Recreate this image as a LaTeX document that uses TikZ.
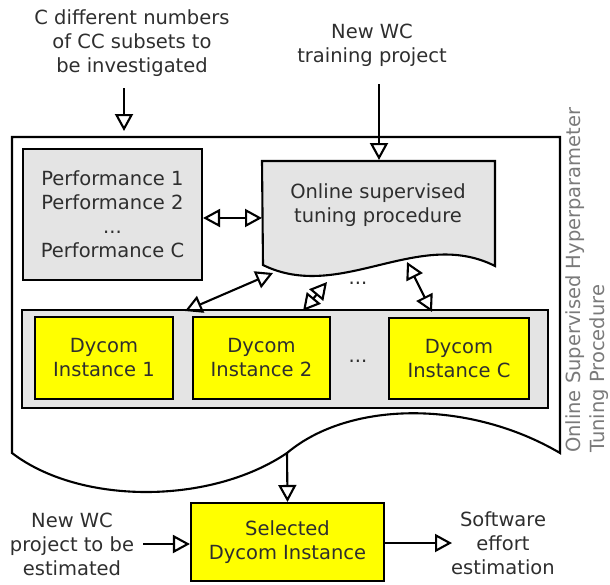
\documentclass[tikz,border=0pt]{standalone}
\usepackage{fontspec}
\setmainfont{DejaVu Sans}
\usetikzlibrary{arrows.meta}
\definecolor{boxgray}{HTML}{E4E4E4}
\definecolor{txt}{HTML}{2E2E2E}
\definecolor{vtxt}{HTML}{7A7A7A}
\definecolor{dyellow}{HTML}{FFFF00}
\begin{document}
\begin{tikzpicture}[x=1pt,y=-1pt, line width=2.1pt,
  every node/.style={font=\fontsize{19.5}{24}\selectfont, text=txt, align=center},
  box/.style={draw=black, rectangle, inner sep=0pt},
  gbox/.style={box, fill=boxgray},
  ybox/.style={box, fill=dyellow},
  arr/.style={-{Triangle[open,length=17pt,width=18pt]}},
  darr/.style={{Triangle[open,length=17pt,width=18pt]}-{Triangle[open,length=17pt,width=18pt]}},
]
\useasboundingbox (0,0) rectangle (610,584);

% outer document shape
\draw (12,453) -- (12,137) -- (560,137) -- (560,453)
  .. controls (470,400) and (350,400) .. (287,453)
  .. controls (210,505) and (80,505) .. (12,453) -- cycle;
\coordinate (wv) at (287,453);

% vertical label
\node[rotate=90, anchor=north west, align=left, text=vtxt, inner sep=0pt] (vt) at (565,454)
  {Online Supervised Hyperparameter\\Tuning Procedure};

% top inputs
\node (cq) at (132,43) {C different numbers\\of CC subsets to\\be investigated};
\node (nw) at (372,45) {New WC\\training project};
\coordinate (a1s) at (124,88);
\coordinate (a1e) at (124,131);
\coordinate (a2s) at (379,84);
\coordinate (a2e) at (379,160);

% performance box
\node[gbox, minimum width=179pt, minimum height=131pt] (perf) at (112.5,214.5)
  {Performance 1\\Performance 2\\...\\Performance C};

% online supervised tuning procedure (document shape)
\draw[fill=boxgray] (262,161) -- (495,161) -- (495,266)
  .. controls (418,227) and (340,303) .. (263,265) -- cycle;
\node (tp) at (378,205.5) {Online supervised\\tuning procedure};
\coordinate (tpw) at (262,218);
\coordinate (d1a) at (273,273);
\coordinate (d2a) at (327,282);
\coordinate (d3a) at (407,262);
\node (dots1) at (358,283) {...};

% container with Dycom instances
\node[gbox, minimum width=526pt, minimum height=98pt] (cont) at (285,359) {};
\node[ybox, minimum width=138pt, minimum height=82pt] (dy1) at (104,358) {Dycom\\Instance 1};
\node[ybox, minimum width=137pt, minimum height=82pt] (dy2) at (261.5,358) {Dycom\\Instance 2};
\node[ybox, minimum width=140pt, minimum height=81pt] (dyc) at (459,358.5) {Dycom\\Instance C};
\node (dots2) at (358,361) {...};
\coordinate (d1b) at (185,311);
\coordinate (d2b) at (303,311);
\coordinate (d3b) at (432,312);

% selected instance
\node[ybox, minimum width=193pt, minimum height=78pt] (sel) at (287.5,542) {Selected\\Dycom Instance};
\node (nwp) at (72,544) {New WC\\project to be\\estimated};
\node (sw) at (503,543) {Software\\effort\\estimation};
\coordinate (inl) at (143,544);
\coordinate (outr) at (452,543);

% connectors
\draw[arr] (a1s) -- (a1e);
\draw[arr] (a2s) -- (a2e);
\draw[darr] (perf.east |- tpw) -- (tpw);
\draw[darr] (d1b) -- (d1a);
\draw[darr] (d2b) -- (d2a);
\draw[darr] (d3b) -- (d3a);
\draw[arr] (wv) -- (sel.north);
\draw[arr] (inl) -- (sel.west |- inl);
\draw[arr] (sel.east |- outr) -- (outr);
\end{tikzpicture}
\end{document}
